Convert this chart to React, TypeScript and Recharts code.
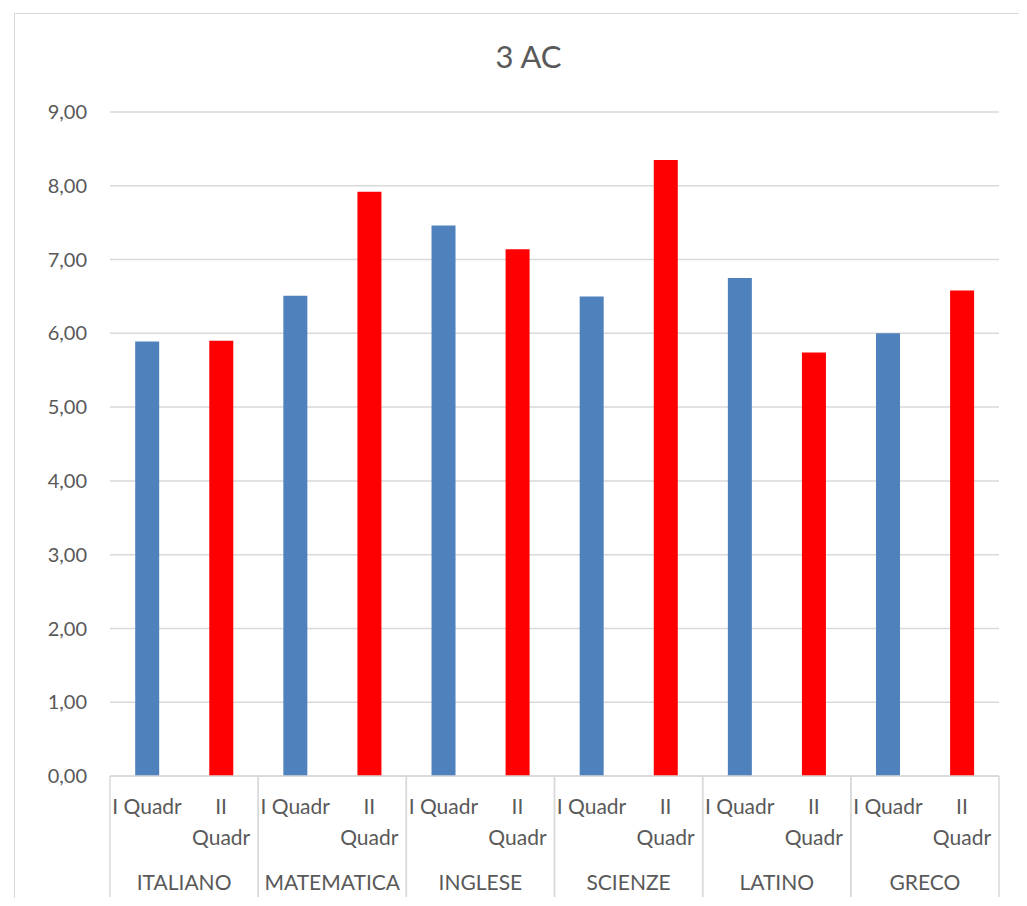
import { BarChart, Bar, XAxis, YAxis, CartesianGrid, Cell } from 'recharts';

const subjects = ['ITALIANO', 'MATEMATICA', 'INGLESE', 'SCIENZE', 'LATINO', 'GRECO'];
const periods = ['I Quadr', 'II Quadr'];
const firstQuadr = [5.89, 6.51, 7.46, 6.5, 6.75, 6.0];
const secondQuadr = [5.9, 7.92, 7.14, 8.35, 5.74, 6.58];
const yTicks = [0, 1, 2, 3, 4, 5, 6, 7, 8, 9];
const periodColors = ['#4f81bd', '#ff0000'];

const data = subjects.flatMap((subject, i) => [
  { key: `${subject}-0`, subject, period: periods[0], periodIndex: 0, value: firstQuadr[i] },
  { key: `${subject}-1`, subject, period: periods[1], periodIndex: 1, value: secondQuadr[i] },
]);

// layout
const W = 1027;
const H = 906;
const MARGIN = { top: 112, right: 28, bottom: 8, left: 0 };
const Y_AXIS_W = 110;
const PERIOD_AXIS_H = 82;
const SUBJECT_AXIS_H = 40;
const PLOT_W = W - MARGIN.left - MARGIN.right - Y_AXIS_W;
const GROUP_W = PLOT_W / subjects.length;
const SLOT_W = GROUP_W / periods.length;

const FONT = 'Lato, "Open Sans", sans-serif';
const LABEL_SIZE = 21;
const TEXT_COLOR = '#595959';
const LINE_COLOR = '#d9d9d9';

// wrap a label the way the spreadsheet does when it is wider than its slot
let ctx: CanvasRenderingContext2D | null = null;
function wrapLabel(label: string, maxWidth: number): string[] {
  if (!ctx) ctx = document.createElement('canvas').getContext('2d');
  if (!ctx) return [label];
  ctx.font = `${LABEL_SIZE}px ${FONT}`;
  const words = label.split(' ');
  const lines: string[] = [];
  let current = '';
  words.forEach((w) => {
    const next = current ? `${current} ${w}` : w;
    if (current && ctx!.measureText(next).width > maxWidth) {
      lines.push(current);
      current = w;
    } else {
      current = next;
    }
  });
  if (current) lines.push(current);
  return lines;
}

function PeriodTick(props: any) {
  const { x, y, payload } = props;
  const row = data[payload.index];
  const lines = row ? wrapLabel(row.period, SLOT_W - 4) : [];
  return (
    <text x={x} y={y + 38} textAnchor="middle" fill={TEXT_COLOR} style={{ fontSize: LABEL_SIZE, fontFamily: FONT }}>
      {lines.map((line, i) => (
        <tspan key={i} x={x} dy={i === 0 ? 0 : 31}>
          {line}
        </tspan>
      ))}
    </text>
  );
}

function SubjectTick(props: any) {
  const { x, y, payload } = props;
  const half = GROUP_W / 2;
  const top = y - PERIOD_AXIS_H;
  const bottom = y + SUBJECT_AXIS_H - 1;
  return (
    <g>
      <line x1={x - half} x2={x - half} y1={top} y2={bottom} stroke={LINE_COLOR} strokeWidth={1.5} />
      <line x1={x + half} x2={x + half} y1={top} y2={bottom} stroke={LINE_COLOR} strokeWidth={1.5} />
      <text x={x} y={y + 32} textAnchor="middle" fill={TEXT_COLOR} style={{ fontSize: LABEL_SIZE, fontFamily: FONT }}>
        {payload.value}
      </text>
    </g>
  );
}

export default function App() {
  return (
    <div
      style={{
        position: 'relative',
        width: W,
        height: H,
        margin: -8,
        overflow: 'hidden',
        background: '#fff',
        fontFamily: FONT,
      }}
    >
      <div
        style={{
          position: 'absolute',
          left: 14,
          top: 13,
          width: 1040,
          height: 920,
          border: `1.5px solid ${LINE_COLOR}`,
          boxSizing: 'border-box',
        }}
      />
      <div
        style={{
          position: 'absolute',
          left: 0,
          top: 37,
          width: 1057,
          textAlign: 'center',
          fontSize: 31,
          color: TEXT_COLOR,
          lineHeight: '38px',
        }}
      >
        3 AC
      </div>
      <BarChart
        width={W}
        height={H}
        data={data}
        margin={MARGIN}
        barCategoryGap="34%"
        style={{ position: 'absolute', left: 0, top: 0 }}
      >
        <CartesianGrid vertical={false} stroke={LINE_COLOR} strokeWidth={1.5} />
        <XAxis
          dataKey="key"
          xAxisId="period"
          height={PERIOD_AXIS_H}
          interval={0}
          tickLine={false}
          tickSize={0}
          tickMargin={0}
          axisLine={{ stroke: LINE_COLOR, strokeWidth: 1.5 }}
          tick={<PeriodTick />}
        />
        <XAxis
          dataKey="subject"
          xAxisId="subject"
          allowDuplicatedCategory={false}
          height={SUBJECT_AXIS_H}
          interval={0}
          tickLine={false}
          tickSize={0}
          tickMargin={0}
          axisLine={false}
          tick={<SubjectTick />}
        />
        <YAxis
          width={Y_AXIS_W}
          domain={[0, 9]}
          ticks={yTicks}
          interval={0}
          axisLine={false}
          tickLine={false}
          tickSize={0}
          tickMargin={23}
          tickFormatter={(v: number) => v.toFixed(2).replace('.', ',')}
          tick={{ fill: TEXT_COLOR, fontSize: 20, fontFamily: FONT }}
        />
        <Bar dataKey="value" xAxisId="period" isAnimationActive={false}>
          {data.map((d) => (
            <Cell key={d.key} fill={periodColors[d.periodIndex]} />
          ))}
        </Bar>
      </BarChart>
    </div>
  );
}
